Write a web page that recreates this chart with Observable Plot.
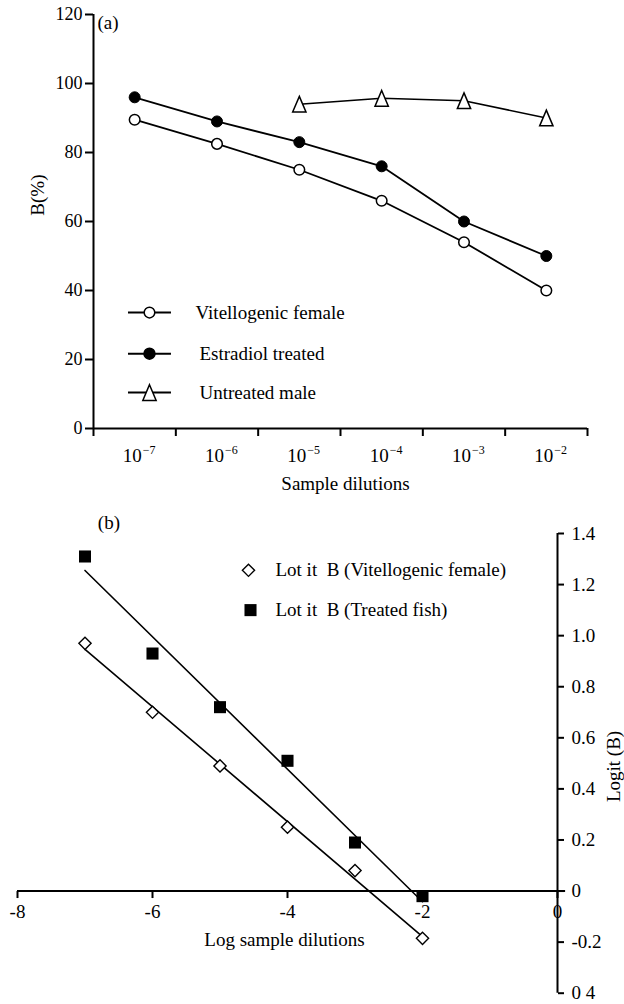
<!DOCTYPE html>
<html>
<head>
<meta charset="utf-8">
<script src="https://cdn.jsdelivr.net/npm/d3@7"></script>
<script src="https://cdn.jsdelivr.net/npm/@observablehq/plot@0.6"></script>
<style>
  html, body { margin: 0; padding: 0; background: white; }
  #chart { width: 624px; }
  #chart svg { display: block; overflow: visible; }
</style>
</head>
<body>
<div id="chart"></div>
<script>
// ---------- DATA: panel (a) ----------
const dilutionExponents = [-7, -6, -5, -4, -3, -2];          // 10^-7 ... 10^-2
const vitellogenicFemaleB = [89.5, 82.5, 75, 66, 54, 40];
const estradiolTreatedB = [96, 89, 83, 76, 60, 50];
const maleExponents = [-5, -4, -3, -2];
const untreatedMaleB = [94, 95.7, 95, 90];
const yTicksA = [0, 20, 40, 60, 80, 100, 120];
const xTickBoundsA = [-7.5, -6.5, -5.5, -4.5, -3.5, -2.5, -1.5];
const seriesNamesA = ["Vitellogenic female", "Estradiol treated", "Untreated male"];

// ---------- DATA: panel (b) ----------
const logDilutions = [-7, -6, -5, -4, -3, -2];
const logitVitellogenic = [0.97, 0.70, 0.49, 0.25, 0.08, -0.185];
const logitTreated = [1.31, 0.93, 0.72, 0.51, 0.19, -0.02];
const xTicksB = [-8, -6, -4, -2, 0];
const xTickLabelsB = ["-8", "-6", "-4", "-2", "0"];
const yTicksB = [1.4, 1.2, 1.0, 0.8, 0.6, 0.4, 0.2, 0, -0.2, -0.4];
const yTickLabelsB = ["1.4", "1.2", "1.0", "0.8", "0.6", "0.4", "0.2", "0", "-0.2", "0 4"];
const seriesNamesB = ["Lot it  B (Vitellogenic female)", "Lot it  B (Treated fish)"];

// ---------- build tables ----------
const vitA = dilutionExponents.map((e, i) => ({e, b: vitellogenicFemaleB[i]}));
const estA = dilutionExponents.map((e, i) => ({e, b: estradiolTreatedB[i]}));
const maleA = maleExponents.map((e, i) => ({e, b: untreatedMaleB[i]}));
const vitB = logDilutions.map((x, i) => ({x, y: logitVitellogenic[i]}));
const trtB = logDilutions.map((x, i) => ({x, y: logitTreated[i]}));

const FONT = "'Liberation Serif', 'Times New Roman', serif";
const baseStyle = {fontFamily: FONT, fontSize: "19px", color: "black", background: "white", overflow: "visible"};

// tall open triangle symbol
const tallTriangle = {
  draw(ctx, size) {
    const r = Math.sqrt(size / Math.PI);
    const h = r * 1.31, w = r * 1.11;
    ctx.moveTo(0, -h); ctx.lineTo(w, h); ctx.lineTo(-w, h); ctx.closePath();
  }
};
// downward tick symbol for an axis in the middle of the frame
const downTick = {
  draw(ctx) { ctx.moveTo(0, 0); ctx.lineTo(0, 7); }
};

// ---------- layout of legend (a) in data units ----------
const legA = {rowsY: [33.6, 21.7, 10.4], lineX1: -7.075, lineX2: -6.553, markX: -6.82, textX: [-6.261, -6.213, -6.213]};
const legendSymbolsA = [
  {fill: "white", symbol: "circle", r: 5.3},
  {fill: "black", symbol: "circle", r: 5.5},
  {fill: "white", symbol: tallTriangle, r: 6}
];

const plotA = Plot.plot({
  width: 624, height: 500,
  marginTop: 14, marginBottom: 72, marginLeft: 93, marginRight: 37,
  x: {domain: [-7.5, -1.5], axis: null},
  y: {domain: [0, 120], axis: null},
  style: baseStyle,
  marks: [
    Plot.ruleY([0], {x1: -7.5, x2: -1.5, strokeWidth: 2}),
    Plot.ruleX([-7.5], {y1: 0, y2: 120, strokeWidth: 2}),
    Plot.axisY(yTicksA, {anchor: "left", tickSize: 8, tickPadding: 3, strokeWidth: 2, fontSize: 18, tickFormat: d => String(d), label: null}),
    Plot.axisX(xTickBoundsA, {anchor: "bottom", tickSize: 8, strokeWidth: 2, tickFormat: () => "", label: null}),
    Plot.text(dilutionExponents, {x: d => d, frameAnchor: "bottom", text: () => "10", dx: -2.5, dy: 33.5, fontSize: 19}),
    Plot.text(dilutionExponents, {x: d => d, frameAnchor: "bottom", text: d => "\u2212" + (-d), dx: 8, dy: 25, fontSize: 12, textAnchor: "start"}),
    Plot.text(["Sample dilutions"], {x: -4.44, frameAnchor: "bottom", dy: 61, fontSize: 19}),
    Plot.text(["B(%)"], {frameAnchor: "left", dx: -55.5, y: 61.7, rotate: -90, fontSize: 19}),
    Plot.text(["(a)"], {x: -7.451, y: 117.7, textAnchor: "start", fontSize: 19}),

    Plot.line(maleA, {x: "e", y: "b", stroke: "black", strokeWidth: 1.5}),
    Plot.line(estA, {x: "e", y: "b", stroke: "black", strokeWidth: 1.8}),
    Plot.line(vitA, {x: "e", y: "b", stroke: "black", strokeWidth: 1.8}),
    Plot.dot(maleA, {x: "e", y: "b", symbol: tallTriangle, r: 6, fill: "white", stroke: "black", strokeWidth: 1.5}),
    Plot.dot(estA, {x: "e", y: "b", r: 5.5, fill: "black", stroke: "black", strokeWidth: 1}),
    Plot.dot(vitA, {x: "e", y: "b", r: 5.3, fill: "white", stroke: "black", strokeWidth: 1.5}),

    // legend
    Plot.ruleY(legA.rowsY, {y: d => d, x1: legA.lineX1, x2: legA.lineX2, stroke: "black", strokeWidth: 2}),
    ...legendSymbolsA.map((s, i) => Plot.dot([legA.rowsY[i]], {x: legA.markX, y: d => d, symbol: s.symbol, r: s.r, fill: s.fill, stroke: "black", strokeWidth: 1.5})),
    Plot.text(seriesNamesA, {x: (d, i) => legA.textX[i], y: (d, i) => legA.rowsY[i], text: d => d, textAnchor: "start", fontSize: 19})
  ]
});

// ---------- layout of legend (b) in data units ----------
const legB = {markX: [-4.578, -4.548], rowsY: [1.256, 1.1], textX: -4.178};

const plotB = Plot.plot({
  width: 624, height: 504,
  marginTop: 33, marginBottom: 11.3, marginLeft: 17, marginRight: 67,
  x: {domain: [-8, 0], axis: null},
  y: {domain: [-0.4, 1.4], axis: null},
  style: baseStyle,
  marks: [
    Plot.ruleY([0], {x1: -8, x2: 0.12, strokeWidth: 2}),
    Plot.ruleX([0], {y1: -0.4, y2: 1.4, strokeWidth: 2}),
    Plot.axisY(yTicksB, {anchor: "right", tickSize: 6, tickPadding: 8, strokeWidth: 2, fontSize: 19,
      tickFormat: d => yTickLabelsB[yTicksB.indexOf(d)], label: null}),
    Plot.dot(xTicksB, {x: d => d, y: 0, symbol: downTick, r: 3, stroke: "black", strokeWidth: 2, fill: "none"}),
    Plot.text(xTicksB, {x: d => d, y: 0, text: d => xTickLabelsB[xTicksB.indexOf(d)], dy: 21, fontSize: 19}),
    Plot.text(["Log sample dilutions"], {x: -4.044, y: -0.193, fontSize: 19}),
    Plot.text(["Logit (B)"], {x: 0.83, y: 0.488, rotate: -90, fontSize: 19}),
    Plot.text(["(b)"], {x: -6.81, y: 1.44, textAnchor: "start", fontSize: 19}),

    Plot.linearRegressionY(trtB, {x: "x", y: "y", ci: 0, stroke: "black", strokeWidth: 1.6}),
    Plot.linearRegressionY(vitB, {x: "x", y: "y", ci: 0, stroke: "black", strokeWidth: 1.6}),
    Plot.dot(vitB, {x: "x", y: "y", symbol: "diamond2", r: 5.5, fill: "white", stroke: "black", strokeWidth: 1.4}),
    Plot.dot(trtB, {x: "x", y: "y", symbol: "square", r: 6.8, fill: "black", stroke: "none"}),

    // legend
    Plot.dot([legB.rowsY[0]], {x: legB.markX[0], y: d => d, symbol: "diamond2", r: 5.5, fill: "white", stroke: "black", strokeWidth: 1.4}),
    Plot.dot([legB.rowsY[1]], {x: legB.markX[1], y: d => d, symbol: "square", r: 6.8, fill: "black", stroke: "none"}),
    Plot.text(seriesNamesB, {x: legB.textX, y: (d, i) => legB.rowsY[i], text: d => d, textAnchor: "start", fontSize: 19})
  ]
});

const chart = document.getElementById("chart");
chart.appendChild(plotA);
chart.appendChild(plotB);
</script>
</body>
</html>
